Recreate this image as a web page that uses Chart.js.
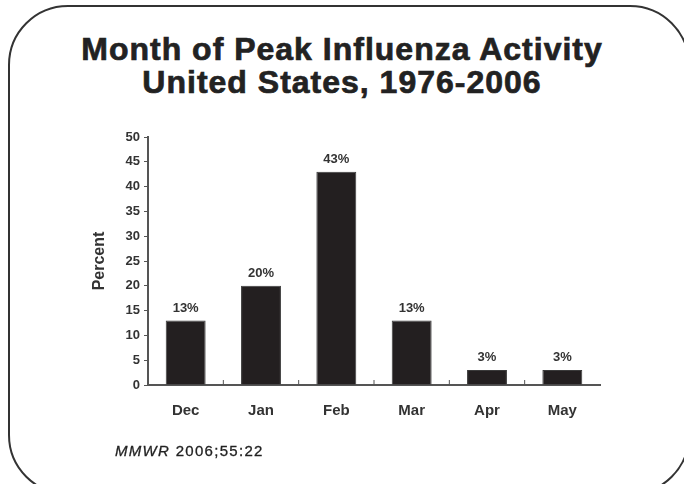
<!DOCTYPE html>
<html>
<head>
<meta charset="utf-8">
<script src="https://cdn.jsdelivr.net/npm/chart.js@4"></script>
<style>
  html, body { margin: 0; padding: 0; background: #fff; }
  #wrap { position: relative; width: 684px; height: 484px; overflow: hidden; }
  #frame {
    position: absolute; left: 8px; top: 5px; width: 682px; height: 490px;
    border: 2px solid #333; border-radius: 60px; box-sizing: border-box;
  }
  #title {
    position: absolute; left: 0; top: 33px; width: 684px; text-align: center;
    font: bold 32px "Liberation Sans", Arial, sans-serif; line-height: 33px;
    letter-spacing: 1px; color: #222; -webkit-text-stroke: 0.7px #222;
  }
  #source {
    position: absolute; left: 115px; top: 442px;
    font: 15px "Liberation Sans", Arial, sans-serif; letter-spacing: 1.3px; color: #222;
    -webkit-text-stroke: 0.3px #222;
  }
  canvas { position: absolute; left: 0; top: 0; }
</style>
</head>
<body>
<div id="wrap">
  <div id="frame"></div>
  <div id="title">Month of Peak Influenza Activity<br>United States, 1976-2006</div>
  <canvas id="c" width="684" height="484"></canvas>
  <div id="source"><i>MMWR</i> 2006;55:22</div>
</div>
<script>
'use strict';

/* ── Data ─────────────────────────────────────────────── */

const months = ['Dec', 'Jan', 'Feb', 'Mar', 'Apr', 'May'];
const percents = [13, 20, 43, 13, 3, 3];
const yTicks = [0, 5, 10, 15, 20, 25, 30, 35, 40, 45, 50];

const INK = '#222';
const AXIS = '#555';
const FONT = '"Liberation Sans", Arial, sans-serif';

/* small upward ticks between categories + value labels above bars */
const decorations = {
  id: 'decorations',
  afterDatasetsDraw(chart) {
    const { ctx, scales: { x, y } } = chart;
    ctx.save();
    ctx.strokeStyle = AXIS;
    ctx.lineWidth = 1;
    for (let i = 0; i < months.length - 1; i++) {
      const bx = (x.getPixelForValue(i) + x.getPixelForValue(i + 1)) / 2;
      ctx.beginPath();
      ctx.moveTo(bx, y.bottom);
      ctx.lineTo(bx, y.bottom - 5);
      ctx.stroke();
    }
    ctx.fillStyle = '#333';
    ctx.font = `bold 13px ${FONT}`;
    ctx.textAlign = 'center';
    ctx.textBaseline = 'bottom';
    const meta = chart.getDatasetMeta(0);
    meta.data.forEach((bar, i) => {
      ctx.fillText(`${percents[i]}%`, bar.x, bar.y - 6);
    });
    ctx.restore();
  },
};

new Chart(document.getElementById('c'), {
  type: 'bar',
  data: {
    labels: months,
    datasets: [
      {
        data: percents,
        backgroundColor: '#231f20',
        borderColor: '#3a3a3a',
        borderWidth: 1,
        barPercentage: 0.53,
        categoryPercentage: 1,
      },
    ],
  },
  options: {
    responsive: false,
    animation: false,
    layout: { padding: { left: 88, right: 84, top: 137, bottom: 59 } },
    plugins: {
      legend: { display: false },
      tooltip: { enabled: false },
    },
    scales: {
      x: {
        afterFit: s => { s.height = 40; },
        grid: { display: false, drawTicks: false },
        border: { display: true, color: AXIS, width: 2 },
        ticks: { color: '#333', padding: 17, font: { family: FONT, size: 15, weight: 'bold' } },
      },
      y: {
        min: 0,
        max: 50,
        afterFit: s => { s.width = 60; },
        afterBuildTicks: s => { s.ticks = yTicks.map(v => ({ value: v })); },
        grid: { drawOnChartArea: false, tickLength: 4, color: AXIS },
        border: { display: true, color: AXIS, width: 2 },
        ticks: { color: '#333', padding: 4, font: { family: FONT, size: 13, weight: 'bold' } },
        title: {
          display: true,
          text: 'Percent',
          color: '#333',
          padding: 2,
          font: { family: FONT, size: 16, weight: 'bold' },
        },
      },
    },
  },
  plugins: [decorations],
});
</script>
</body>
</html>
